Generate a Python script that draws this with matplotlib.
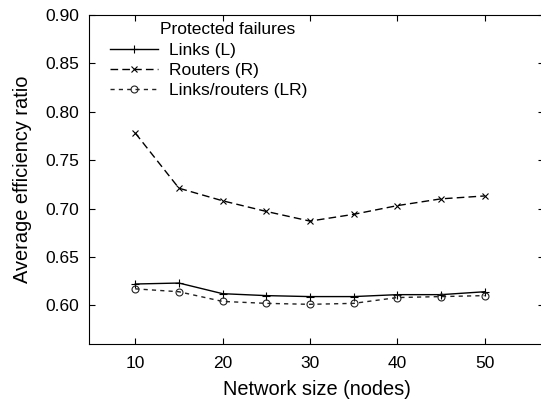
import numpy as np
import matplotlib.pyplot as plt

plt.rcParams['font.family'] = ['Liberation Sans', 'DejaVu Sans']

# data
sizes = [10, 15, 20, 25, 30, 35, 40, 45, 50]
links = [0.622, 0.623, 0.612, 0.610, 0.609, 0.609, 0.611, 0.611, 0.614]
routers = [0.778, 0.721, 0.708, 0.697, 0.687, 0.694, 0.703, 0.710, 0.713]
links_routers = [0.617, 0.614, 0.604, 0.602, 0.601, 0.602, 0.608, 0.609, 0.610]

fig = plt.figure(figsize=(5.41, 4.01), dpi=100)
ax = fig.add_axes([89 / 541, 57 / 401, 455 / 541, 329 / 401])

ax.plot(sizes, links, color='black', lw=1.0, marker='+', ms=6, mew=0.8,
        label='Links (L)')
ax.plot(sizes, routers, color='black', lw=1.0, ls=(0, (5.5, 3)), marker='x',
        ms=5, mew=0.8, label='Routers (R)')
ax.plot(sizes, links_routers, color='#222222', lw=1.0, ls=(0, (3, 3)),
        marker='o', ms=5, mfc='none', mew=0.8, label='Links/routers (LR)')

ax.set_xlim(4.7, 56.8)
ax.set_ylim(0.56, 0.90)
ax.set_xticks([10, 20, 30, 40, 50])
ax.set_yticks(np.arange(0.60, 0.901, 0.05))
ax.yaxis.set_major_formatter(plt.FormatStrFormatter('%.2f'))
ax.tick_params(direction='in', length=4, width=0.8, top=True, right=True,
               labelsize=12.5, pad=9, colors='black')
ax.tick_params(axis='y', pad=7)
ax.set_xlabel('Network size (nodes)', fontsize=14.4, labelpad=6)
ax.set_ylabel('Average efficiency ratio', fontsize=14.4, labelpad=10)

leg = ax.legend(loc='upper left', bbox_to_anchor=(0.031, 0.935), frameon=False,
                fontsize=12.5, handlelength=2.76, handletextpad=0.63,
                labelspacing=0.27, borderaxespad=0)
ax.text(0.156, 0.957, 'Protected failures', transform=ax.transAxes,
        fontsize=12.5, va='center', ha='left')

fig.savefig('out.png', dpi=100)
